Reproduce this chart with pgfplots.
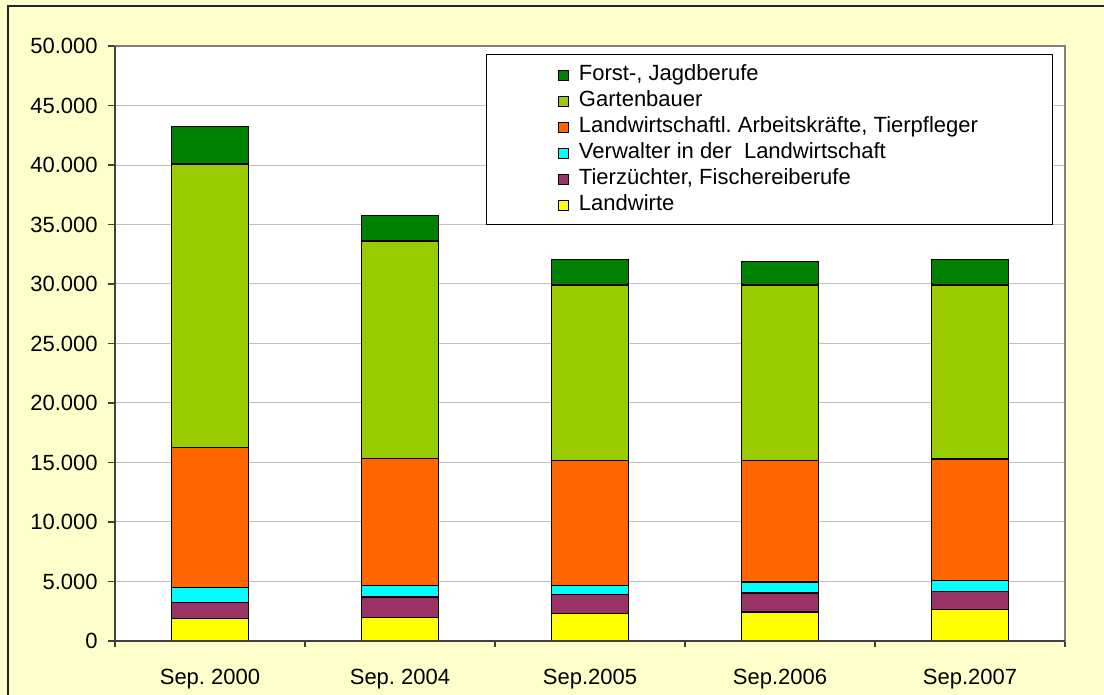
\documentclass[border=0pt]{standalone}
\usepackage{fontspec}
\setmainfont{Liberation Sans}
\usepackage{pgfplots}
\pgfplotsset{compat=1.18}
\definecolor{bgyellow}{HTML}{FFFFCC}
\definecolor{cYellow}{HTML}{FFFF00}
\definecolor{cPurple}{HTML}{993366}
\definecolor{cCyan}{HTML}{00FFFF}
\definecolor{cOrange}{HTML}{FF6600}
\definecolor{cGreen}{HTML}{99CC00}
\definecolor{cDark}{HTML}{008000}
\definecolor{axgray}{HTML}{808080}
\definecolor{axdark}{HTML}{404040}
\definecolor{gridgray}{HTML}{C0C0C0}
\begin{document}
\frenchspacing
\begin{tikzpicture}
\fill[bgyellow] (-57.5pt,-27pt) rectangle (494.5pt,320.5pt);
\path[use as bounding box] (-57.5pt,-27pt) rectangle (494.5pt,320.5pt);
\draw[black!85, line width=1pt] (-53.5pt,-28pt) -- (-53.5pt,317.25pt) -- (496pt,317.25pt);
\begin{axis}[
  at={(0pt,0pt)}, anchor=south west,
  scale only axis, width=475pt, height=297.5pt,
  ybar stacked, bar width=38.5pt,
  xmin=-0.5, xmax=4.5, ymin=0, ymax=50000,
  xtick={0,1,2,3,4},
  xticklabels={Sep. 2000, Sep. 2004, Sep.2005, Sep.2006, Sep.2007},
  minor xtick={-0.5,0.5,1.5,2.5,3.5,4.5},
  major x tick style={draw=none},
  ytick={0,5000,...,50000},
  tick align=outside, tick pos=left,
  major tick length=3.5pt, minor tick length=3pt,
  tick style={axdark, line width=0.6pt},
  ymajorgrids, major grid style={gridgray, line width=0.5pt},
  axis background/.style={fill=white},
  axis line style={axgray, line width=1pt},
  /pgf/number format/assume math mode=true,
  yticklabel style={/pgf/number format/.cd, fixed, 1000 sep={.}},
  ticklabel style={font=\fontsize{11}{13}\selectfont, inner sep=0pt},
  yticklabel shift=5pt,
  xticklabel shift=10.5pt,
  scaled y ticks=false,
  legend style={at={(0.3905,0.9866)}, anchor=north west, draw=black, line width=0.5pt, fill=white,
    font=\fontsize{11}{13}\selectfont, inner xsep=36pt, inner ysep=3.5pt, row sep=0pt,
    nodes={inner sep=1pt, text height=8.5pt, text depth=2.5pt}},
  legend cell align=left,
  reverse legend,
  legend image code/.code={\draw[#1, draw=black, line width=0.5pt] (0pt,-3pt) rectangle (5pt,2pt); \path[draw=none, fill=none] (5pt,0pt) -- (9pt,0pt);},
  every axis plot/.append style={draw=black, line width=0.7pt},
  after end axis/.code={\draw[axdark, line width=0.8pt] (rel axis cs:0,1) -- (rel axis cs:0,0) -- (rel axis cs:1,0);},
  clip=false,
]
\addplot[fill=cYellow] coordinates {(0,1870) (1,1990) (2,2330) (3,2440) (4,2630)};
\addplot[fill=cPurple] coordinates {(0,1380) (1,1710) (2,1560) (3,1590) (4,1540)};
\addplot[fill=cCyan] coordinates {(0,1260) (1,950) (2,790) (3,930) (4,930)};
\addplot[fill=cOrange] coordinates {(0,11730) (1,10670) (2,10470) (3,10190) (4,10190)};
\addplot[fill=cGreen] coordinates {(0,23840) (1,18290) (2,14770) (3,14770) (4,14630)};
\addplot[fill=cDark] coordinates {(0,3140) (1,2160) (2,2150) (3,1980) (4,2150)};
\legend{Landwirte, {Tierzüchter, Fischereiberufe}, Verwalter in der~\ Landwirtschaft, {Landwirtschaftl. Arbeitskräfte, Tierpfleger}, Gartenbauer, {Forst-, Jagdberufe}}
\end{axis}
\end{tikzpicture}
\end{document}
